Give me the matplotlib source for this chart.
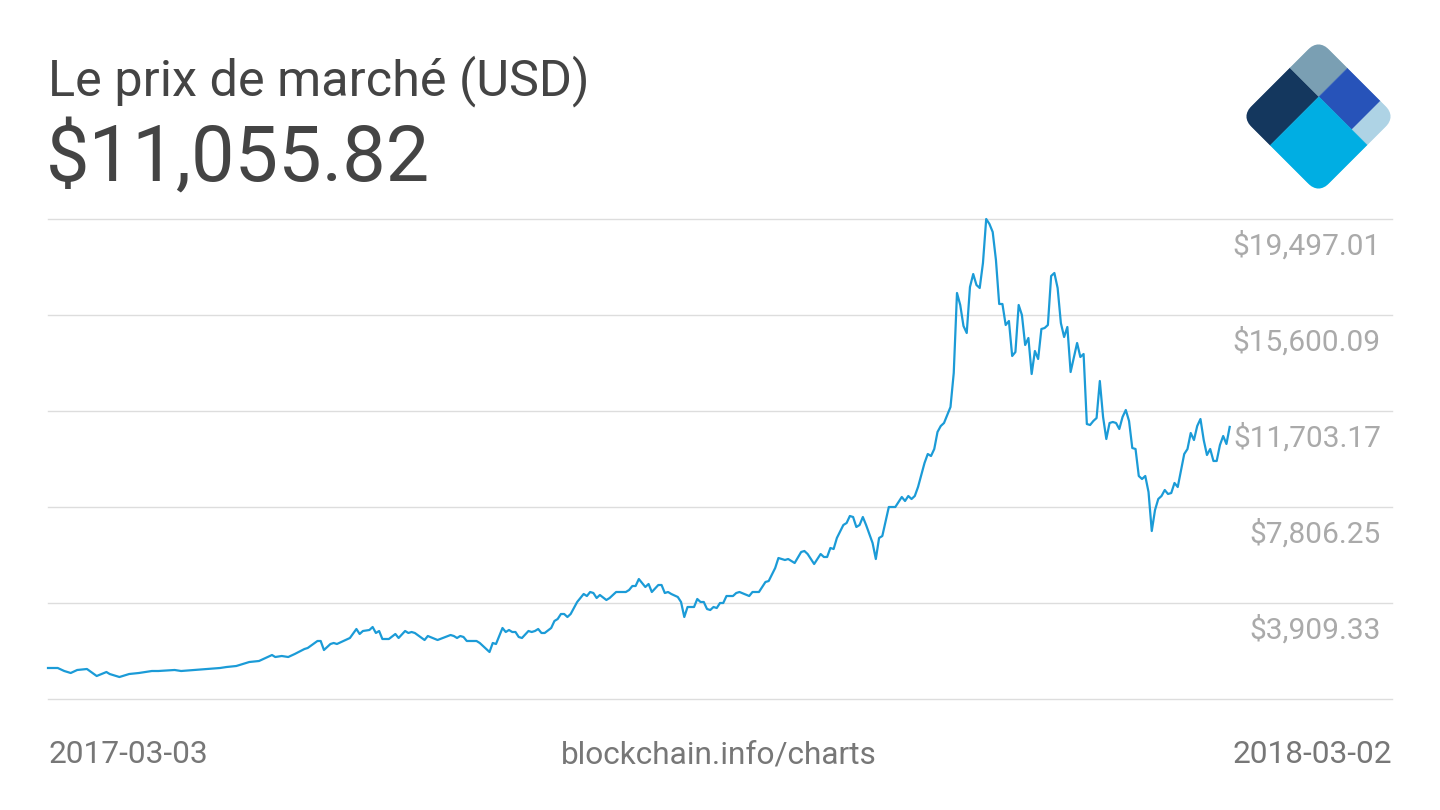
import matplotlib
matplotlib.use("Agg")
import matplotlib.pyplot as plt
from matplotlib.patches import Rectangle, FancyBboxPatch
from matplotlib.transforms import Affine2D

plt.rcParams['font.family'] = ['Roboto', 'DejaVu Sans']

# ---------------- data ----------------
start_label = "2017-03-03"
end_label = "2018-03-02"
title_text = "Le prix de marché (USD)"
current_price = 11055.82
source_text = "blockchain.info/charts"

# day offsets from 2017-03-03
day_offset = [
    0, 3, 5, 7, 9, 12, 15, 18, 19, 22, 23, 25, 28, 32, 34, 39, 41, 45, 49, 53,
    55, 58, 62, 65, 69, 70, 72, 74, 76, 79, 80, 83, 84, 85, 87, 88, 89, 91, 93, 95,
    96, 97, 99, 100, 101, 102, 103, 105, 107, 108, 110, 111, 112, 113, 116, 117, 120, 124, 125, 126,
    127, 128, 129, 132, 133, 136, 137, 138, 140, 141, 142, 143, 144, 145, 146, 148, 149, 150, 151, 152,
    153, 155, 156, 157, 158, 159, 160, 161, 163, 165, 166, 167, 168, 169, 170, 172, 173, 175, 178, 179,
    180, 181, 182, 184, 185, 186, 188, 189, 190, 191, 192, 194, 195, 196, 197, 199, 200, 201, 202, 203,
    204, 205, 206, 207, 208, 209, 211, 212, 213, 216, 217, 219, 221, 222, 224, 225, 227, 228, 230, 232,
    233, 234, 236, 238, 239, 240, 241, 242, 243, 245, 246, 247, 248, 249, 250, 251, 252, 254, 255, 256,
    257, 259, 261, 263, 264, 265, 266, 267, 268, 270, 271, 272, 273, 274, 275, 276, 278, 279, 280, 281,
    282, 283, 284, 285, 286, 287, 288, 289, 290, 291, 292, 293, 294, 295, 296, 297, 298, 299, 300, 301,
    302, 303, 304, 305, 306, 307, 308, 309, 310, 311, 312, 313, 314, 315, 317, 318, 319, 320, 321, 322,
    323, 324, 325, 326, 327, 328, 329, 330, 331, 332, 333, 334, 335, 336, 337, 338, 339, 340, 341, 342,
    343, 344, 345, 346, 347, 348, 350, 351, 352, 353, 354, 355, 356, 357, 358, 359, 360, 361, 362, 363,
    364,
]

price_usd = [
    1271, 1271, 1149, 1068, 1190, 1230, 946, 1108, 1027, 905, 946, 1027, 1068, 1149, 1149, 1190, 1149, 1190, 1230, 1271,
    1311, 1352, 1514, 1555, 1798, 1717, 1758, 1717, 1839, 2042, 2083, 2367, 2367, 2001, 2245, 2286, 2245, 2367, 2489, 2854,
    2651, 2773, 2813, 2935, 2692, 2773, 2448, 2448, 2651, 2489, 2773, 2692, 2732, 2692, 2407, 2570, 2407, 2610, 2570, 2489,
    2570, 2529, 2367, 2367, 2286, 1920, 2286, 2245, 2895, 2732, 2813, 2732, 2732, 2529, 2489, 2773, 2732, 2773, 2854, 2692,
    2692, 2895, 3179, 3260, 3463, 3463, 3341, 3463, 3950, 4275, 4193, 4356, 4315, 4112, 4234, 4031, 4112, 4356, 4356, 4437,
    4599, 4599, 4883, 4559, 4681, 4356, 4640, 4640, 4315, 4356, 4275, 4153, 3950, 3341, 3747, 3747, 4072, 3950, 3950, 3666,
    3625, 3747, 3706, 3909, 3909, 4193, 4193, 4315, 4356, 4193, 4356, 4356, 4762, 4802, 5330, 5736, 5655, 5695, 5533, 5980,
    6020, 5898, 5492, 5898, 5777, 5777, 6142, 6101, 6548, 7076, 7157, 7441, 7400, 6994, 7076, 7400, 7076, 6345, 5695, 6548,
    6629, 7806, 7806, 8212, 8050, 8253, 8131, 8253, 8618, 9592, 9958, 9876, 10161, 10851, 11094, 11216, 11866, 13246, 16493, 16006,
    15154, 14869, 16737, 17264, 16818, 16696, 17711, 19497, 19294, 18969, 17833, 16047, 16047, 15194, 15357, 13936, 14098, 16006, 15600, 14382,
    14667, 13205, 14139, 13814, 15032, 15072, 15194, 17183, 17305, 16696, 15275, 14707, 15113, 13286, 14464, 13895, 14017, 11175, 11135, 11297,
    11419, 12921, 11460, 10567, 11216, 11257, 11216, 10973, 11460, 11744, 11297, 10201, 10161, 9065, 8943, 9065, 8415, 6832, 7684, 8131,
    8253, 8496, 8334, 8374, 8781, 8618, 9958, 10161, 10810, 10526, 11094, 11378, 10526, 9917, 10161, 9674, 9674, 10323, 10688, 10364,
    11055.82,
]

grid_values = [12.41, 3909.33, 7806.25, 11703.17, 15600.09, 19497.01]
labelled_values = [19497.01, 15600.09, 11703.17, 7806.25, 3909.33]
x_span_days = 414

logo_colors = {
    "navy": "#14375e",
    "gray": "#7a9fb3",
    "blue": "#2753b9",
    "light": "#aed3e5",
    "cyan": "#00aee3",
}

# ---------------- figure ----------------
W, H = 1440, 810
fig = plt.figure(figsize=(W / 100, H / 100), dpi=100)
fig.patch.set_facecolor("white")

ax = fig.add_axes([48 / W, 1 - 699 / H, 1344 / W, 480 / H])
ax.set_xlim(0, x_span_days)
ax.set_ylim(grid_values[0], grid_values[-1])
for gv in grid_values:
    ax.axhline(gv, color="#dddddd", lw=1.0, zorder=0, clip_on=False)
ax.plot(day_offset, price_usd, color="#1b9bd7", lw=1.6, clip_on=False,
        solid_joinstyle="round", zorder=3)
for s in ax.spines.values():
    s.set_visible(False)
ax.set_xticks([])
ax.set_yticks([])

for v in labelled_values:
    ax.annotate(f"${v:,.2f}", xy=(1, v), xycoords=("axes fraction", "data"),
                xytext=(-11, -36), textcoords="offset pixels",
                ha="right", va="baseline", fontsize=21.5, color="#aaaaaa")

# titles
fig.text(48 / W, 1 - 95 / H, title_text, fontsize=36.3, color="#444444",
         ha="left", va="baseline")
fig.text(46 / W, 1 - 181 / H, f"${current_price:,.2f}", fontsize=55.8,
         color="#444444", ha="left", va="baseline")

# bottom labels
fig.text(48 / W, 1 - 763 / H, start_label, fontsize=22.8, color="#777777",
         ha="left", va="baseline")
fig.text(719 / W, 1 - 763 / H, source_text, fontsize=22.8, color="#777777",
         ha="center", va="baseline")
fig.text(1392 / W, 1 - 763 / H, end_label, fontsize=22.8, color="#777777",
         ha="right", va="baseline")

# logo
lax = fig.add_axes([1241 / W, 1 - 194 / H, 155 / W, 155 / H])
lax.set_xlim(-0.7071, 0.7071)
lax.set_ylim(0, 1.4142)
lax.axis("off")
tr = Affine2D().rotate_deg(45) + lax.transData
clip = FancyBboxPatch((0, 0), 1, 1, boxstyle="round,pad=0,rounding_size=0.14",
                      transform=tr, facecolor="none", edgecolor="none")
lax.add_patch(clip)
pieces = [
    ((0, 0.625), 0.63, 0.375, "navy"),
    ((0.63, 0.625), 0.37, 0.375, "gray"),
    ((0.63, 0.2), 0.37, 0.425, "blue"),
    ((0.63, 0.0), 0.37, 0.2, "light"),
    ((0, 0), 0.63, 0.625, "cyan"),
]
for (x0, y0), w, h, c in pieces:
    r = Rectangle((x0, y0), w, h, transform=tr, facecolor=logo_colors[c],
                  edgecolor=logo_colors[c], lw=0.3)
    lax.add_patch(r)
    r.set_clip_path(clip)

fig.savefig("out.png", dpi=100, facecolor="white")
